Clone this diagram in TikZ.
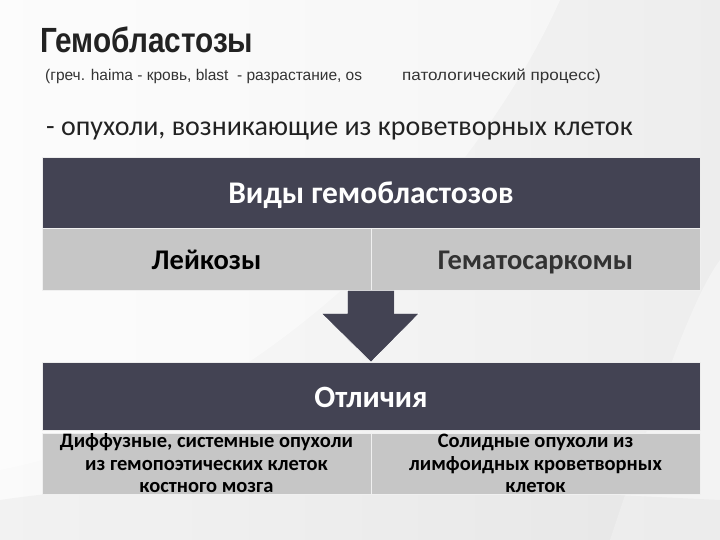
\documentclass[tikz,border=0pt]{standalone}
\usepackage{fontspec}
\setmainfont{Carlito}
\newfontfamily\titlefont[FakeStretch=0.85]{Liberation Sans}
\newfontfamily\subfont{Liberation Sans}
\usetikzlibrary{calc}
\definecolor{darkbox}{HTML}{434353}
\definecolor{lightbox}{HTML}{C6C6C6}
\definecolor{txtdark}{HTML}{222222}
\tikzset{
  hdr/.style={fill=darkbox, draw=white!85!gray, line width=0.6pt, inner sep=0pt, text=white,
    font=\fontsize{31.5}{34}\selectfont\bfseries, text height=25pt, text depth=3pt},
  cell/.style={fill=lightbox, draw=white!88!gray, line width=0.6pt, inner sep=0pt, text=black,
    font=\fontsize{28.5}{32}\selectfont\bfseries, text height=23pt, text depth=3pt},
  smallcell/.style={fill=lightbox, draw=white!88!gray, line width=0.6pt, inner sep=0pt, text=black,
    font=\fontsize{20.5}{22.5}\selectfont\bfseries, align=center},
  blockarrow/.style={fill=darkbox, draw=white, line width=0.6pt, line join=miter}
}
\begin{document}
\begin{tikzpicture}[x=1pt,y=-1pt]
\useasboundingbox (0,0) rectangle (720,540);
% background
\shade[left color=white!96!gray, right color=white!86!gray] (0,0) rectangle (720,540);
\fill[white, opacity=0.45] (0,0) -- (560,0) .. controls (470,200) and (250,420) .. (0,470) -- cycle;
\fill[white, opacity=0.35] (610,540) .. controls (650,420) and (690,300) .. (720,260) -- (720,540) -- cycle;
\fill[gray, opacity=0.06] (0,500) .. controls (200,470) and (500,490) .. (720,500) -- (720,540) -- (0,540) -- cycle;

% titles
\node[anchor=base west, inner sep=0pt, text=txtdark, font=\titlefont\fontsize{35}{40}\selectfont\bfseries] (title) at (40,53) {Гемобластозы};
\node[anchor=base west, inner sep=0pt, text=black!80, font=\subfont\fontsize{15.5}{18}\selectfont] (sub) at (45,81)
  {(греч. haima - кровь, blast \ - разрастание, os\hspace{40pt}\scalebox{1.1}[1]{патологический процесс)}};
\node[anchor=west, inner sep=0pt, text=txtdark, font=\fontsize{28}{32}\selectfont] (def) at (46,131)
  {- опухоли, возникающие из кроветворных клеток};

% upper table
\node[hdr, minimum width=658pt, minimum height=71pt] (vid) at (371,192.5) {Виды гемобластозов};
\node[cell, minimum width=329pt, minimum height=62pt] (leik) at (206.5,259) {Лейкозы};
\node[cell, minimum width=329pt, minimum height=62pt, text=black!80] (gem) at (535.5,259) {Гематосаркомы};

% lower table
\node[hdr, font=\fontsize{31}{34}\selectfont\bfseries, minimum width=658pt, minimum height=68pt] (otl) at (371,396.5) {Отличия};
\node[smallcell, minimum width=329pt, minimum height=61pt] (diff) at (206.5,463.5) {Диффузные, системные опухоли\\из гемопоэтических клеток\\костного мозга};
\node[smallcell, minimum width=329pt, minimum height=61pt] (sol) at (535.5,463.5) {Солидные опухоли из\\лимфоидных кроветворных\\клеток};

% block arrow
\coordinate (tip) at (otl.north);
\coordinate (base) at (leik.south east);
\draw[blockarrow] ($(base)+(-24,0)$) -- ($(base)+(23,0)$) -- ($(base)+(23,23)$) -- ($(base)+(48,23)$)
  -- (tip) -- ($(base)+(-50,23)$) -- ($(base)+(-24,23)$) -- cycle;
\end{tikzpicture}
\end{document}
